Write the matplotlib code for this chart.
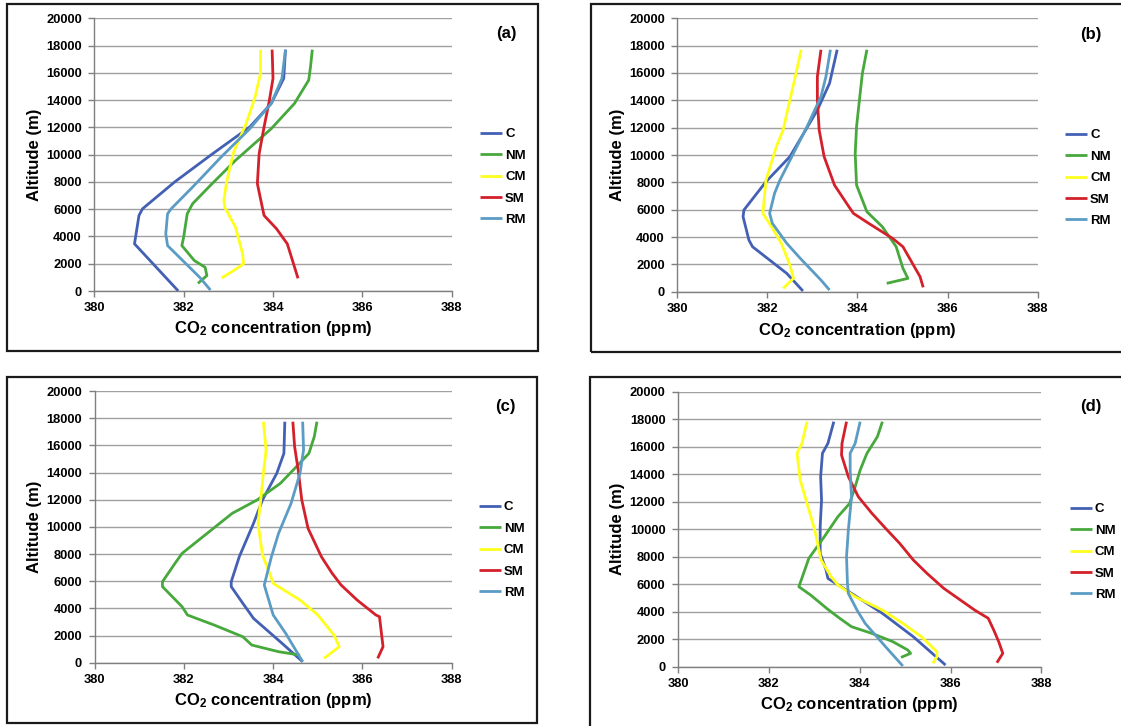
import matplotlib
matplotlib.use('Agg')
import matplotlib.pyplot as plt
from matplotlib.patches import Rectangle

plt.rcParams['font.family'] = ['Liberation Sans', 'DejaVu Sans']
plt.rcParams['font.weight'] = 'bold'
plt.rcParams['mathtext.fontset'] = 'custom'
plt.rcParams['mathtext.rm'] = 'Liberation Sans:bold'
plt.rcParams['mathtext.it'] = 'Liberation Sans:bold'
plt.rcParams['mathtext.bf'] = 'Liberation Sans:bold'

# Series names and colours
series = ['C', 'NM', 'CM', 'SM', 'RM']
colors = {'C': '#4460b4', 'NM': '#47a83c', 'CM': '#ffff1e', 'SM': '#d4202a', 'RM': '#5b9cc4'}

# Panel (a): CO2 (ppm) and altitude (m)
ppm_a = {
    'C':  [381.88, 380.90, 381.00, 381.08, 381.80, 382.60, 383.48, 383.96, 384.24, 384.28],
    'NM': [382.32, 382.52, 382.48, 382.24, 381.96, 382.00, 382.08, 382.20, 382.60, 383.16, 383.96, 384.48, 384.80, 384.84, 384.88],
    'CM': [382.85, 383.12, 383.34, 383.32, 383.16, 382.92, 382.90, 382.96, 383.12, 383.40, 383.60, 383.72, 383.72],
    'SM': [384.56, 384.32, 384.08, 383.80, 383.76, 383.65, 383.69, 383.80, 383.92, 384.00, 383.98],
    'RM': [382.60, 382.36, 381.64, 381.60, 381.64, 381.72, 382.20, 382.84, 383.48, 383.96, 384.20, 384.28],
}
alt_a = {
    'C':  [0, 3460, 5540, 6030, 8000, 9950, 12030, 13750, 15590, 17700],
    'NM': [560, 1130, 1740, 2230, 3330, 3950, 5660, 6400, 7750, 9580, 11900, 13750, 15470, 16450, 17700],
    'CM': [955, 1500, 1985, 2720, 4680, 6150, 6640, 7990, 10200, 12280, 14240, 15960, 17700],
    'SM': [930, 3460, 4560, 5540, 6150, 7870, 10070, 12030, 14000, 15590, 17700],
    'RM': [70, 1000, 3330, 4190, 5660, 6030, 7620, 9830, 11900, 13750, 15590, 17700],
}

# Panel (b)
ppm_b = {
    'C':  [382.79, 382.43, 381.67, 381.59, 381.46, 381.48, 381.97, 382.50, 382.85, 383.11, 383.38, 383.55],
    'NM': [384.65, 385.12, 385.01, 384.86, 384.55, 384.21, 383.98, 383.95, 383.98, 384.06, 384.11, 384.21],
    'CM': [382.35, 382.58, 382.50, 382.31, 382.09, 381.90, 381.97, 382.20, 382.35, 382.50, 382.62, 382.75],
    'SM': [385.46, 385.39, 385.01, 384.78, 384.25, 383.91, 383.76, 383.49, 383.26, 383.15, 383.11, 383.11, 383.19],
    'RM': [383.38, 383.19, 382.73, 382.43, 382.11, 382.05, 382.16, 382.28, 382.58, 382.88, 383.19, 383.30, 383.40],
}
alt_b = {
    'C':  [50, 1340, 3290, 3780, 5490, 5980, 8050, 9880, 11830, 13290, 15240, 17700],
    'NM': [610, 975, 1710, 3290, 4760, 5850, 7800, 10120, 12070, 14510, 15980, 17700],
    'CM': [240, 975, 1950, 3540, 4760, 5730, 8170, 10610, 11830, 14020, 15730, 17700],
    'SM': [320, 1100, 3290, 3900, 5000, 5730, 6460, 7800, 9880, 11830, 14020, 15730, 17700],
    'RM': [120, 850, 2440, 3540, 5000, 5730, 7200, 8170, 10120, 12070, 14270, 15730, 17700],
}

# Panel (c)
ppm_c = {
    'C':  [384.66, 384.20, 383.56, 383.32, 383.06, 383.06, 383.24, 383.56, 383.76, 384.08, 384.24, 384.26],
    'NM': [384.60, 384.12, 383.52, 383.32, 382.68, 382.08, 381.96, 381.52, 381.52, 381.80, 381.96, 382.52, 383.08, 383.64, 384.16, 384.52, 384.80, 384.92, 384.98],
    'CM': [385.14, 385.48, 385.36, 385.00, 384.60, 384.00, 383.92, 383.76, 383.66, 383.72, 383.78, 383.84, 383.78],
    'SM': [386.34, 386.46, 386.38, 386.30, 385.88, 385.52, 385.32, 385.08, 384.78, 384.64, 384.56, 384.48, 384.44],
    'RM': [384.66, 384.28, 384.00, 383.80, 383.96, 384.12, 384.40, 384.60, 384.68, 384.66],
}
alt_c = {
    'C':  [70, 1420, 3260, 4370, 5600, 5960, 7800, 10260, 11980, 13940, 15410, 17740],
    'NM': [560, 810, 1300, 1910, 2770, 3510, 4120, 5600, 5960, 7310, 8050, 9520, 10990, 11980, 13200, 14430, 15410, 16640, 17740],
    'CM': [320, 1180, 2040, 3510, 4610, 5840, 6580, 7930, 10260, 11980, 13940, 15660, 17740],
    'SM': [320, 1180, 3390, 3510, 4610, 5720, 6580, 7800, 9890, 11980, 14180, 15900, 17740],
    'RM': [70, 2160, 3510, 5720, 7800, 9520, 11730, 13940, 15660, 17740],
}

# Panel (d)
ppm_d = {
    'C':  [385.89, 385.18, 384.50, 383.82, 383.30, 383.26, 383.13, 383.13, 383.16, 383.14, 383.18, 383.30, 383.43],
    'NM': [384.91, 385.12, 385.06, 384.73, 384.27, 383.82, 383.56, 383.30, 382.92, 382.66, 382.70, 382.88, 383.22, 383.52, 383.78, 383.90, 384.01, 384.16, 384.39, 384.50],
    'CM': [385.61, 385.70, 385.70, 385.36, 384.95, 384.50, 383.90, 383.52, 383.37, 383.15, 383.01, 382.84, 382.69, 382.62, 382.73, 382.84],
    'SM': [387.02, 387.15, 387.06, 386.95, 386.83, 386.53, 385.85, 385.48, 385.18, 384.88, 384.57, 384.27, 383.97, 383.75, 383.60, 383.61, 383.71],
    'RM': [384.95, 384.57, 384.12, 383.94, 383.75, 383.73, 383.71, 383.75, 383.82, 383.79, 383.79, 383.90, 384.01],
}
alt_d = {
    'C':  [120, 2180, 3880, 5330, 6420, 7030, 8240, 10180, 12120, 13820, 15520, 16240, 17820],
    'NM': [680, 970, 1210, 1820, 2420, 2910, 3520, 4170, 5210, 5820, 6180, 7880, 9450, 10910, 11880, 13090, 14300, 15520, 16730, 17820],
    'CM': [240, 730, 1090, 2180, 3150, 4120, 5090, 5940, 6550, 7760, 9940, 11880, 13580, 15520, 16240, 17820],
    'SM': [290, 970, 1820, 2670, 3520, 4120, 5700, 6790, 7760, 8970, 10060, 11150, 12360, 13820, 15390, 16240, 17820],
    'RM': [50, 1450, 3150, 4120, 5330, 6060, 8000, 9940, 12360, 14300, 15520, 16240, 17820],
}

panel_labels = ['(a)', '(b)', '(c)', '(d)']
x_ticks = [380, 382, 384, 386, 388]
y_ticks = list(range(0, 20001, 2000))

W, H = 1121, 726
fig = plt.figure(figsize=(W / 100, H / 100), dpi=100)

def fx(x):
    return x / W

def fy(y):
    return (H - y) / H

def px_box(x0, x1, ytop, ybot):
    fig.patches.append(Rectangle((fx(x0), fy(ybot)), (x1 - x0) / W, (ybot - ytop) / H,
                                 transform=fig.transFigure, fill=False, edgecolor='#1a1a1a',
                                 linewidth=1.6))

# layout in pixels: axes (x380, x388, y20000, y0), frame, legend (left, centre y),
# panel tag (x, y), ylabel centre x, xlabel centre y
layout = [
    dict(ax=(94.3, 451.7, 18.3, 291.0), box=(7.3, 538.3, 4.3, 350.7),
         leg=(480.0, 177.0), tag=(506.5, 33.5), ylab=34.0, xlab=328.5),
    dict(ax=(677.3, 1037.6, 18.3, 291.7), box=(590.7, 1126, 4.3, 351.7),
         leg=(1065.0, 178.0), tag=(1091.0, 35.0), ylab=617.5, xlab=330.0),
    dict(ax=(94.6, 451.8, 391.0, 662.7), box=(7.3, 536.7, 377.3, 722.7),
         leg=(478.6, 550.0), tag=(505.5, 406.0), ylab=34.0, xlab=700.0),
    dict(ax=(678.0, 1041.4, 391.7, 666.7), box=(590.1, 1126, 377.3, 730),
         leg=(1069.8, 552.0), tag=(1091.0, 406.0), ylab=617.5, xlab=704.0),
]
data = [(ppm_a, alt_a), (ppm_b, alt_b), (ppm_c, alt_c), (ppm_d, alt_d)]

for lay, (ppm, alt), lab in zip(layout, data, panel_labels):
    px_box(*lay['box'])
    x0, x1, yt, yb = lay['ax']
    ax = fig.add_axes([fx(x0), fy(yb), (x1 - x0) / W, (yb - yt) / H])
    for s in series:
        ax.plot(ppm[s], alt[s], color=colors[s], linewidth=2.0, label=s,
                solid_joinstyle='round', solid_capstyle='butt', zorder=3)
    ax.set_xlim(380, 388)
    ax.set_ylim(0, 20000)
    ax.set_xticks(x_ticks)
    ax.set_yticks(y_ticks)
    ax.yaxis.grid(True, color='#a0a0a0', linewidth=1.0)
    ax.set_axisbelow(True)
    for sp in ['top', 'right']:
        ax.spines[sp].set_visible(False)
    for sp in ['left', 'bottom']:
        ax.spines[sp].set_color('#7f7f7f')
        ax.spines[sp].set_linewidth(1.0)
    ax.tick_params(axis='both', direction='out', length=4, width=1.0, color='#7f7f7f',
                   labelsize=9.3)
    ax.tick_params(axis='y', pad=5)
    ax.tick_params(axis='x', pad=4)
    for t in ax.get_xticklabels() + ax.get_yticklabels():
        t.set_fontweight('bold')
    ax.set_xlabel(r'CO$_{2}$ concentration (ppm)', fontsize=12, fontweight='bold')
    ax.set_ylabel('Altitude (m)', fontsize=12, fontweight='bold')
    ax.xaxis.set_label_coords(0.5, (yb - lay['xlab']) / (yb - yt))
    ax.yaxis.set_label_coords((lay['ylab'] - x0) / (x1 - x0), 0.5)
    ax.xaxis.label.set_va('center')
    ax.yaxis.label.set_va('center')
    fig.text(fx(lay['tag'][0]), fy(lay['tag'][1]), lab, ha='center', va='center',
             fontsize=12, fontweight='bold')
    ax.legend(loc='center left', bbox_to_anchor=(fx(lay['leg'][0]), fy(lay['leg'][1])),
              bbox_transform=fig.transFigure, frameon=False,
              borderaxespad=0, borderpad=0, handlelength=1.7, handletextpad=0.2,
              labelspacing=0.7, prop={'size': 9.5, 'weight': 'bold'})

fig.savefig('out.png', dpi=100)
